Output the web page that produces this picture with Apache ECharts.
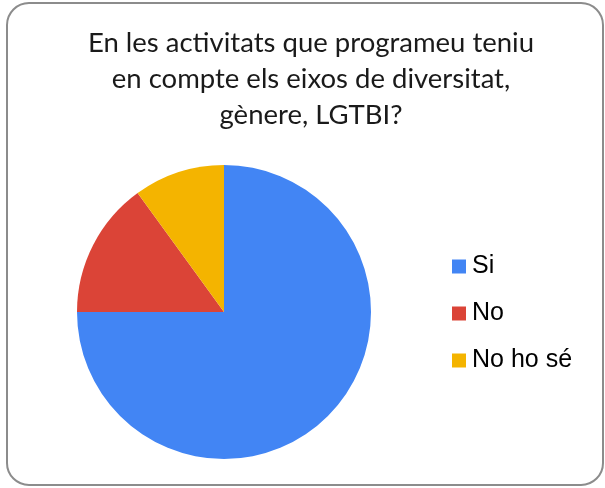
<!DOCTYPE html>
<html>
<head>
<meta charset="utf-8">
<script src="https://cdn.jsdelivr.net/npm/echarts@6/dist/echarts.min.js"></script>
<style>
  html, body { margin: 0; padding: 0; background: #fff; }
  #chart { width: 605px; height: 488px; }
</style>
</head>
<body>
<div id="chart"></div>
<script>
const categories = ['Si', 'No', 'No ho sé'];
const values = [75, 15, 10];
const colors = ['#4285f4', '#db4437', '#f4b400'];
const titleText = 'En les activitats que programeu teniu\nen compte els eixos de diversitat,\ngènere, LGTBI?';

const chart = echarts.init(document.getElementById('chart'));
const option = {
  animation: false,
  color: colors,
  graphic: [
    {
      type: 'rect',
      shape: { x: 7, y: 3, width: 596, height: 482, r: 22 },
      style: { fill: 'none', stroke: '#8c8c8c', lineWidth: 2 },
      silent: true
    }
  ],
  title: {
    text: titleText,
    left: 306,
    top: 20,
    textAlign: 'center',
    textStyle: {
      fontFamily: 'Lato',
      fontWeight: 'normal',
      fontSize: 27.5,
      lineHeight: 36,
      color: '#1a1a1a'
    }
  },
  legend: {
    orient: 'vertical',
    left: 447,
    top: 249,
    itemWidth: 14,
    itemHeight: 14,
    itemGap: 22,
    icon: 'rect',
    textStyle: {
      fontFamily: 'Liberation Sans',
      fontSize: 25,
      color: '#000',
      padding: [0, 0, 0, 1]
    },
    data: categories
  },
  series: [
    {
      type: 'pie',
      center: [224, 312],
      radius: 147,
      startAngle: 90,
      clockwise: true,
      label: { show: false },
      labelLine: { show: false },
      itemStyle: { borderWidth: 0 },
      data: categories.map((name, i) => ({ name: name, value: values[i] }))
    }
  ]
};
chart.setOption(option);
</script>
</body>
</html>
